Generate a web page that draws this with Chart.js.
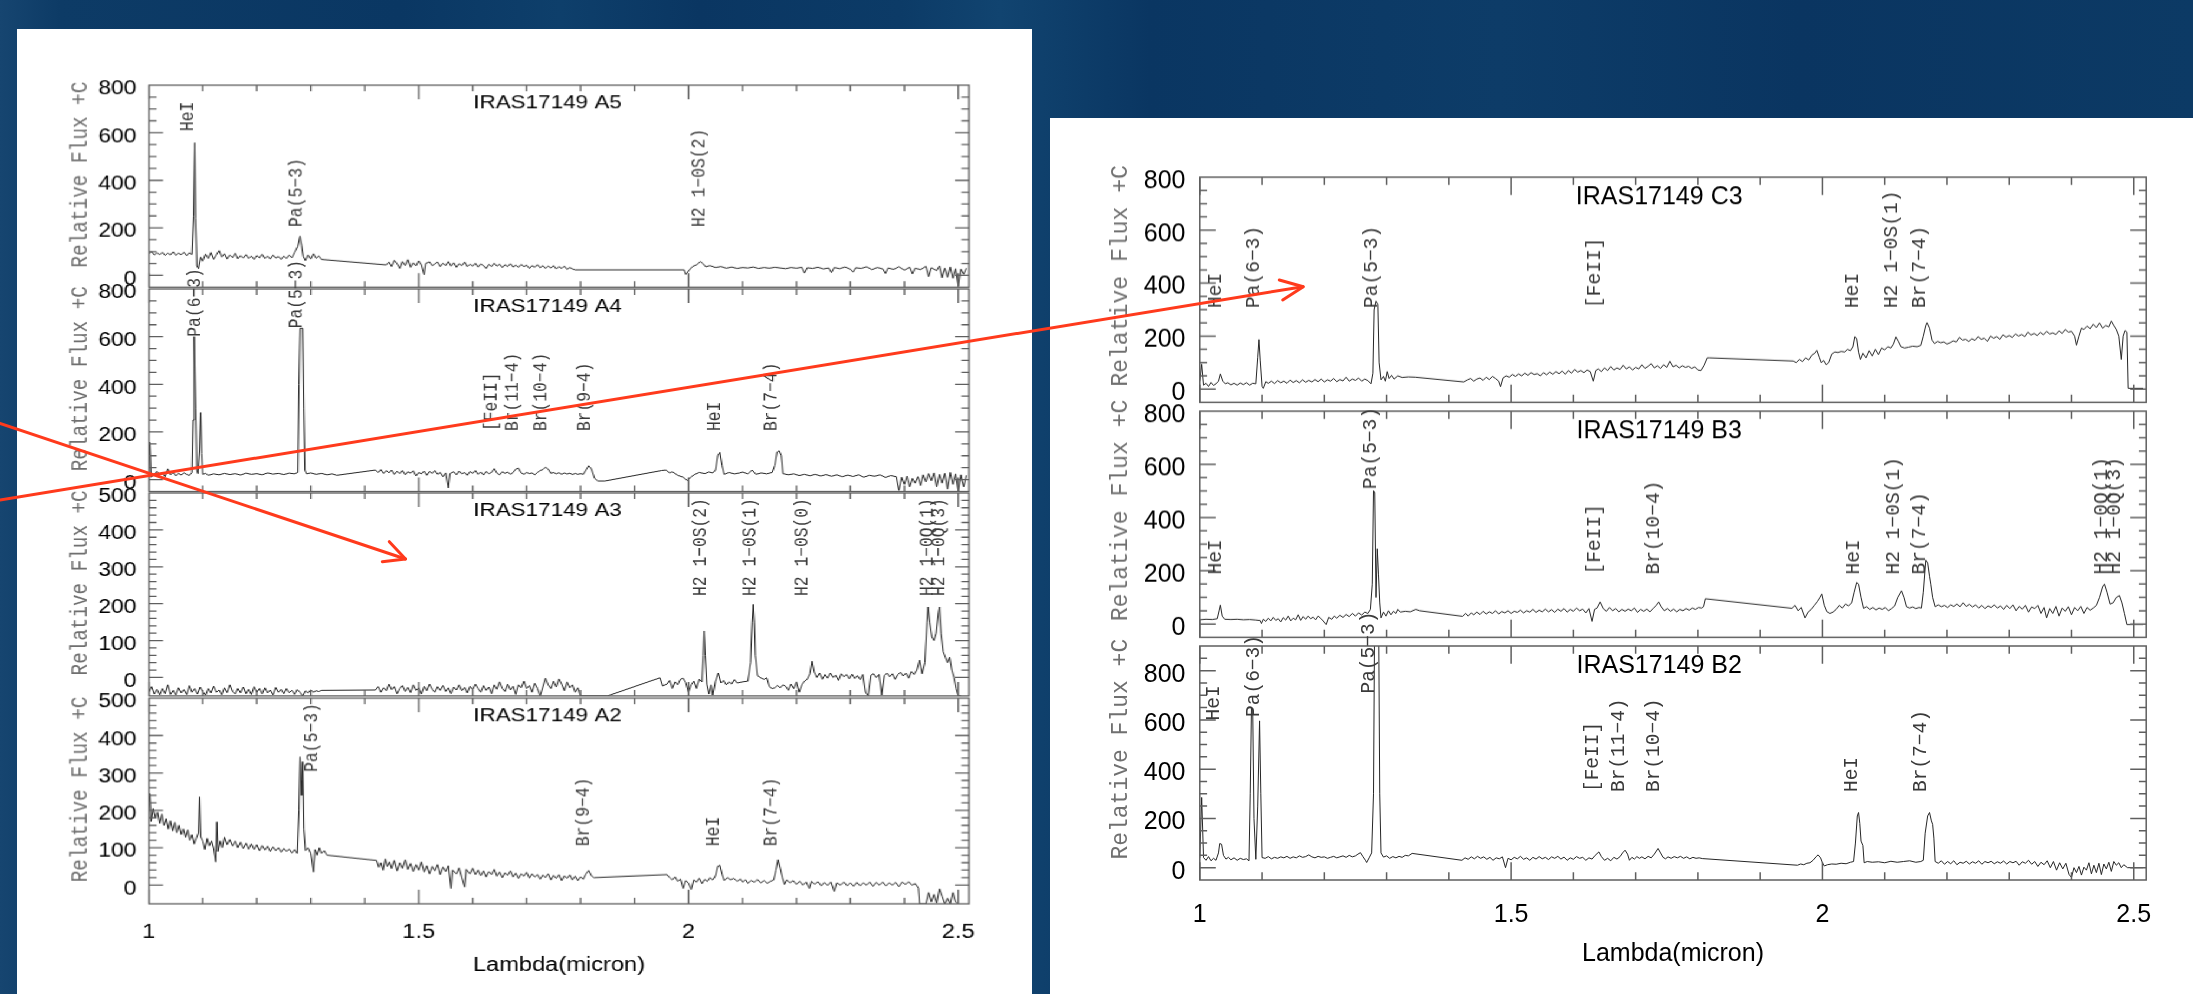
<!DOCTYPE html>
<html>
<head>
<meta charset="utf-8">
<script src="https://cdn.jsdelivr.net/npm/chart.js@4.4.1/dist/chart.umd.min.js"></script>
<style>
html, body { margin: 0; padding: 0; }
body {
    width: 2193px; height: 994px; overflow: hidden; position: relative;
    background: linear-gradient(90deg, #164570 0px, #0d3b66 60px, #0a3763 400px, #0e3f6b 560px, #0a3662 700px,
        #0c3b67 900px, #114470 1000px, #0a3662 1150px, #0d3c68 1500px, #0a3561 1800px, #0c3a65 2193px);
}
#left { position: absolute; left: 17.3px; top: 29.3px; width: 859.7px; height: 964.7px; background: #fff;
    transform: scaleX(1.18); transform-origin: 0 0; }
#right { position: absolute; left: 1049.5px; top: 118.3px; width: 1143.5px; height: 875.7px; background: #fff; }
.sub { position: absolute; left: 0; }
#arrows { position: absolute; left: 0; top: 0; pointer-events: none; }
</style>
</head>
<body>
<div id="left"></div>
<div id="right"></div>
<svg id="arrows" width="2193" height="994">
    <g stroke="#ff3a1c" stroke-width="3" fill="none" stroke-linecap="round" stroke-linejoin="round">
        <line x1="0" y1="500" x2="1303" y2="286.7"/>
        <polyline points="1279.3,280 1303.3,286.7 1282.7,300"/>
        <line x1="0" y1="423.3" x2="405.5" y2="559"/>
        <polyline points="389.3,541.7 405.5,559 382.3,561.7"/>
    </g>
</svg>
<script>
// tick values
const xMinorTicks = [1.0, 1.1, 1.2, 1.3, 1.4, 1.5, 1.6, 1.7, 1.8, 1.9, 2.0, 2.1, 2.2, 2.3, 2.4, 2.5];
const xMajorTicks = [1, 1.5, 2, 2.5];
const yTicks800 = [0, 200, 400, 600, 800];
const yTicks500 = [0, 100, 200, 300, 400, 500];

// spectra [lambda (micron), relative flux]
const specA5 = [[1.000,92],[1.005,99],[1.010,86],[1.015,95],[1.020,87],[1.025,97],[1.030,84],[1.035,93],[1.040,86],[1.045,99],[1.050,84],[1.055,93],[1.060,87],[1.065,97],[1.070,83],[1.075,95],[1.080,88],[1.083,250],[1.085,558],[1.087,240],[1.089,40],[1.092,28],[1.096,76],[1.100,60],[1.105,89],[1.110,71],[1.115,96],[1.120,68],[1.125,86],[1.130,104],[1.135,77],[1.140,91],[1.145,69],[1.150,85],[1.155,75],[1.160,93],[1.165,70],[1.170,83],[1.175,73],[1.180,87],[1.185,71],[1.190,81],[1.195,67],[1.200,83],[1.205,74],[1.210,89],[1.215,71],[1.220,81],[1.225,69],[1.230,85],[1.235,73],[1.240,79],[1.245,67],[1.250,81],[1.255,71],[1.260,85],[1.265,74],[1.270,96],[1.276,122],[1.280,165],[1.283,128],[1.286,80],[1.290,62],[1.295,86],[1.300,69],[1.305,91],[1.310,72],[1.315,81],[1.320,67],[1.325,66],[1.440,44],[1.445,56],[1.450,37],[1.455,63],[1.460,49],[1.465,29],[1.470,58],[1.475,41],[1.480,66],[1.485,34],[1.490,53],[1.495,40],[1.500,61],[1.505,44],[1.510,2],[1.513,50],[1.520,57],[1.525,41],[1.530,48],[1.535,56],[1.540,37],[1.545,51],[1.550,41],[1.555,58],[1.560,39],[1.565,53],[1.570,34],[1.575,49],[1.580,41],[1.585,56],[1.590,37],[1.595,47],[1.600,39],[1.605,51],[1.610,35],[1.615,48],[1.620,41],[1.625,29],[1.630,46],[1.635,37],[1.640,51],[1.645,39],[1.650,47],[1.655,33],[1.660,45],[1.665,37],[1.670,49],[1.675,35],[1.680,43],[1.685,34],[1.690,46],[1.695,37],[1.700,43],[1.705,29],[1.710,41],[1.715,34],[1.720,45],[1.725,32],[1.730,41],[1.735,29],[1.740,39],[1.745,31],[1.750,41],[1.755,27],[1.760,37],[1.765,29],[1.770,39],[1.775,25],[1.780,33],[1.785,27],[1.790,23],[1.992,23],[1.995,4],[2.000,19],[2.008,38],[2.015,44],[2.022,58],[2.027,49],[2.032,36],[2.040,41],[2.050,33],[2.060,37],[2.070,30],[2.080,35],[2.090,29],[2.100,33],[2.110,31],[2.120,35],[2.130,29],[2.140,33],[2.150,30],[2.160,34],[2.170,31],[2.180,28],[2.190,33],[2.200,30],[2.210,34],[2.215,10],[2.220,32],[2.230,29],[2.240,34],[2.250,27],[2.260,31],[2.265,12],[2.270,33],[2.280,28],[2.290,35],[2.300,26],[2.305,14],[2.310,32],[2.320,29],[2.330,36],[2.340,24],[2.350,33],[2.360,27],[2.365,8],[2.370,31],[2.380,25],[2.390,36],[2.400,22],[2.410,34],[2.415,6],[2.420,30],[2.430,24],[2.440,38],[2.445,-5],[2.450,32],[2.460,20],[2.465,40],[2.470,-10],[2.475,30],[2.480,-8],[2.485,35],[2.490,-12],[2.495,28],[2.500,-45],[2.505,26],[2.510,5],[2.515,30]];

const specA4 = [[1.000,5],[1.002,156],[1.004,10],[1.010,22],[1.015,35],[1.020,18],[1.025,28],[1.030,12],[1.035,45],[1.040,20],[1.045,30],[1.050,15],[1.055,26],[1.060,19],[1.065,28],[1.070,22],[1.075,17],[1.080,30],[1.082,250],[1.084,600],[1.087,300],[1.089,40],[1.091,25],[1.094,120],[1.096,281],[1.098,110],[1.100,22],[1.105,26],[1.110,18],[1.120,24],[1.130,20],[1.140,26],[1.150,21],[1.160,25],[1.170,19],[1.180,27],[1.190,22],[1.200,25],[1.210,20],[1.220,28],[1.230,23],[1.240,26],[1.250,21],[1.260,27],[1.270,24],[1.276,30],[1.278,400],[1.280,635],[1.285,635],[1.287,300],[1.289,40],[1.292,24],[1.300,28],[1.310,22],[1.320,26],[1.330,20],[1.340,24],[1.348,18],[1.420,40],[1.425,30],[1.430,42],[1.435,26],[1.440,38],[1.445,28],[1.450,40],[1.455,22],[1.460,35],[1.465,25],[1.470,38],[1.475,20],[1.480,33],[1.485,27],[1.490,37],[1.495,15],[1.500,30],[1.505,24],[1.510,36],[1.515,18],[1.520,34],[1.525,26],[1.530,38],[1.535,22],[1.540,30],[1.545,12],[1.550,28],[1.555,-35],[1.558,25],[1.565,33],[1.570,20],[1.575,36],[1.580,24],[1.585,30],[1.590,18],[1.595,34],[1.600,26],[1.605,38],[1.610,22],[1.615,32],[1.620,19],[1.625,34],[1.630,25],[1.635,30],[1.640,46],[1.645,27],[1.650,20],[1.655,33],[1.660,26],[1.665,32],[1.670,22],[1.675,30],[1.680,44],[1.685,48],[1.690,28],[1.695,22],[1.700,30],[1.705,25],[1.710,28],[1.715,20],[1.720,30],[1.725,38],[1.730,42],[1.735,52],[1.740,44],[1.745,26],[1.750,30],[1.755,24],[1.760,29],[1.765,22],[1.770,28],[1.775,23],[1.780,27],[1.785,21],[1.790,26],[1.795,22],[1.800,25],[1.805,22],[1.810,40],[1.815,58],[1.820,45],[1.826,5],[1.832,-6],[1.845,-6],[1.950,38],[1.958,40],[1.965,28],[1.970,33],[1.980,18],[1.990,10],[1.998,-4],[2.005,12],[2.012,22],[2.020,30],[2.030,25],[2.038,32],[2.045,28],[2.050,40],[2.054,100],[2.058,114],[2.062,60],[2.066,22],[2.075,30],[2.085,24],[2.095,28],[2.100,32],[2.110,24],[2.118,40],[2.125,22],[2.135,28],[2.145,24],[2.155,30],[2.160,60],[2.164,115],[2.168,121],[2.172,100],[2.175,25],[2.185,20],[2.195,24],[2.205,17],[2.215,22],[2.225,16],[2.235,22],[2.245,15],[2.255,21],[2.265,14],[2.275,20],[2.285,12],[2.295,19],[2.305,13],[2.315,20],[2.325,10],[2.335,18],[2.345,14],[2.355,20],[2.365,9],[2.375,17],[2.385,12],[2.390,-45],[2.395,10],[2.400,-20],[2.405,15],[2.410,-30],[2.415,5],[2.420,-15],[2.425,12],[2.430,-25],[2.435,20],[2.440,-10],[2.445,25],[2.450,-5],[2.455,28],[2.460,-30],[2.465,22],[2.470,-15],[2.475,26],[2.480,-40],[2.485,30],[2.490,-20],[2.495,24],[2.500,-50],[2.505,20],[2.510,-30],[2.515,18]];

const specA3 = [[1.000,-40],[1.005,-25],[1.010,-45],[1.015,-32],[1.020,-47],[1.025,-30],[1.030,-44],[1.035,-20],[1.040,-46],[1.045,-35],[1.050,-48],[1.055,-28],[1.060,-42],[1.065,-33],[1.070,-46],[1.075,-22],[1.080,-40],[1.085,-30],[1.090,-45],[1.095,-26],[1.100,-38],[1.105,-48],[1.110,-30],[1.115,-42],[1.120,-24],[1.125,-40],[1.130,-34],[1.135,-47],[1.140,-28],[1.145,-41],[1.150,-20],[1.155,-38],[1.160,-45],[1.165,-30],[1.170,-42],[1.175,-26],[1.180,-44],[1.185,-32],[1.190,-46],[1.195,-25],[1.200,-40],[1.205,-30],[1.210,-45],[1.215,-28],[1.220,-42],[1.225,-34],[1.230,-47],[1.235,-27],[1.240,-40],[1.245,-32],[1.250,-44],[1.255,-30],[1.260,-41],[1.265,-35],[1.270,-46],[1.275,-33],[1.280,-40],[1.285,-50],[1.290,-36],[1.295,-42],[1.300,-34],[1.305,-40],[1.310,-36],[1.315,-38],[1.320,-35],[1.420,-34],[1.425,-25],[1.430,-40],[1.435,-28],[1.440,-36],[1.445,-18],[1.450,-33],[1.455,-25],[1.460,-44],[1.465,-30],[1.470,-22],[1.475,-38],[1.480,-27],[1.485,-41],[1.490,-20],[1.495,-35],[1.500,-28],[1.505,-45],[1.510,-24],[1.515,-36],[1.520,-18],[1.525,-32],[1.530,-40],[1.535,-25],[1.540,-35],[1.545,-22],[1.550,-38],[1.555,-28],[1.560,-44],[1.565,-26],[1.570,-34],[1.575,-20],[1.580,-36],[1.585,-27],[1.590,-42],[1.595,-24],[1.600,-33],[1.605,-18],[1.610,-30],[1.615,-40],[1.620,-22],[1.625,-35],[1.630,-26],[1.635,-44],[1.640,-20],[1.645,-32],[1.650,-12],[1.655,-30],[1.660,-38],[1.665,-18],[1.670,-34],[1.675,-24],[1.680,-46],[1.685,-20],[1.690,-28],[1.695,-10],[1.700,-30],[1.705,-22],[1.710,-40],[1.715,-16],[1.720,-30],[1.725,-50],[1.730,-26],[1.735,-2],[1.740,-20],[1.745,-30],[1.750,-10],[1.755,-26],[1.760,-4],[1.765,-18],[1.770,-36],[1.775,-12],[1.780,-28],[1.785,-20],[1.790,-40],[1.795,-28],[1.800,-50],[1.850,-50],[1.947,-1],[1.952,-23],[1.960,-18],[1.965,-8],[1.970,-30],[1.975,-12],[1.980,-20],[1.985,-5],[1.990,-2],[1.995,-14],[2.000,-40],[2.005,-20],[2.010,-10],[2.015,-30],[2.020,-5],[2.025,-12],[2.027,60],[2.029,126],[2.031,60],[2.034,-18],[2.038,-45],[2.042,-20],[2.045,-48],[2.050,-10],[2.055,12],[2.060,-15],[2.065,-8],[2.070,-20],[2.075,-12],[2.080,-18],[2.085,-6],[2.090,-15],[2.100,-12],[2.110,-10],[2.115,40],[2.118,150],[2.120,198],[2.122,150],[2.124,60],[2.128,5],[2.135,-2],[2.140,-5],[2.145,-1],[2.150,-25],[2.155,-30],[2.160,-28],[2.165,-22],[2.170,-28],[2.175,-20],[2.180,-24],[2.185,-35],[2.190,-18],[2.195,-30],[2.200,-12],[2.205,-40],[2.210,-20],[2.215,-10],[2.220,-5],[2.225,10],[2.229,44],[2.233,15],[2.238,0],[2.243,12],[2.248,-5],[2.253,8],[2.258,-2],[2.263,12],[2.268,0],[2.273,6],[2.278,-8],[2.283,10],[2.288,2],[2.293,8],[2.298,-4],[2.303,9],[2.308,-3],[2.313,5],[2.318,-6],[2.323,8],[2.328,-40],[2.333,-50],[2.338,6],[2.343,10],[2.348,0],[2.353,8],[2.358,-48],[2.363,5],[2.368,12],[2.373,2],[2.378,10],[2.383,-5],[2.388,8],[2.393,14],[2.398,4],[2.403,12],[2.408,-2],[2.413,16],[2.418,8],[2.423,20],[2.428,47],[2.433,10],[2.438,40],[2.442,150],[2.444,191],[2.447,150],[2.451,110],[2.455,100],[2.459,120],[2.463,175],[2.465,191],[2.468,120],[2.472,70],[2.476,55],[2.480,40],[2.484,55],[2.488,20],[2.492,0],[2.496,-30],[2.500,-50],[2.505,-50]];

const specA2 = [[1.000,200],[1.002,245],[1.004,170],[1.008,205],[1.012,180],[1.016,195],[1.020,165],[1.024,190],[1.028,160],[1.032,178],[1.036,150],[1.040,172],[1.044,145],[1.048,168],[1.052,140],[1.056,160],[1.060,135],[1.064,150],[1.068,128],[1.072,148],[1.076,120],[1.080,135],[1.084,110],[1.088,125],[1.092,140],[1.094,236],[1.096,130],[1.100,118],[1.104,95],[1.108,125],[1.112,105],[1.116,118],[1.120,98],[1.124,62],[1.126,169],[1.128,90],[1.132,118],[1.136,100],[1.140,128],[1.145,108],[1.150,122],[1.155,105],[1.160,118],[1.165,100],[1.170,115],[1.175,98],[1.180,112],[1.185,96],[1.190,110],[1.195,95],[1.200,108],[1.205,92],[1.210,106],[1.215,94],[1.220,104],[1.225,90],[1.230,102],[1.235,92],[1.240,100],[1.245,88],[1.250,98],[1.255,90],[1.260,96],[1.265,86],[1.270,95],[1.275,85],[1.278,200],[1.280,343],[1.282,280],[1.283,240],[1.285,330],[1.287,150],[1.290,92],[1.295,100],[1.300,85],[1.305,35],[1.308,95],[1.312,80],[1.316,100],[1.320,85],[1.325,92],[1.330,80],[1.422,66],[1.426,48],[1.430,60],[1.434,40],[1.438,70],[1.442,50],[1.446,62],[1.450,44],[1.455,66],[1.460,38],[1.465,60],[1.470,45],[1.475,68],[1.480,42],[1.485,58],[1.490,36],[1.495,55],[1.500,40],[1.505,62],[1.510,35],[1.515,52],[1.520,30],[1.525,50],[1.530,38],[1.535,55],[1.540,28],[1.545,48],[1.550,36],[1.555,52],[1.560,-9],[1.563,40],[1.570,30],[1.575,46],[1.580,20],[1.585,-5],[1.588,42],[1.595,30],[1.600,45],[1.605,28],[1.610,40],[1.615,25],[1.620,38],[1.625,22],[1.630,36],[1.635,28],[1.640,42],[1.645,24],[1.650,35],[1.655,20],[1.660,33],[1.665,26],[1.670,38],[1.675,22],[1.680,32],[1.685,18],[1.690,30],[1.695,24],[1.700,34],[1.705,19],[1.710,30],[1.715,22],[1.720,28],[1.725,16],[1.730,27],[1.735,20],[1.740,30],[1.745,14],[1.750,26],[1.755,18],[1.760,28],[1.765,12],[1.770,25],[1.775,18],[1.780,27],[1.785,14],[1.790,24],[1.795,12],[1.800,22],[1.805,16],[1.810,30],[1.815,39],[1.820,25],[1.825,20],[1.960,28],[1.965,20],[1.970,14],[1.975,22],[1.980,10],[1.985,16],[1.990,-9],[1.995,12],[2.000,5],[2.005,-12],[2.010,14],[2.015,8],[2.020,18],[2.025,4],[2.030,15],[2.035,10],[2.040,20],[2.045,14],[2.050,25],[2.054,50],[2.058,53],[2.062,30],[2.066,12],[2.072,20],[2.078,14],[2.084,18],[2.090,10],[2.096,16],[2.100,8],[2.106,14],[2.110,5],[2.116,12],[2.122,8],[2.128,15],[2.134,6],[2.140,12],[2.146,5],[2.152,10],[2.158,14],[2.162,40],[2.166,68],[2.170,45],[2.174,20],[2.178,2],[2.182,14],[2.188,6],[2.194,12],[2.200,2],[2.206,10],[2.212,0],[2.218,8],[2.224,-9],[2.228,10],[2.234,2],[2.240,9],[2.246,-2],[2.252,7],[2.258,-1],[2.264,8],[2.270,-17],[2.275,6],[2.282,0],[2.288,8],[2.294,-2],[2.300,6],[2.306,-3],[2.312,7],[2.318,-2],[2.324,6],[2.330,0],[2.336,8],[2.342,-3],[2.348,7],[2.354,0],[2.360,8],[2.366,-2],[2.372,6],[2.378,0],[2.384,7],[2.390,-4],[2.396,8],[2.402,2],[2.408,9],[2.414,0],[2.420,4],[2.426,-8],[2.428,-50],[2.440,-50],[2.445,-20],[2.450,-45],[2.455,-25],[2.460,-48],[2.465,-10],[2.470,-30],[2.475,-50],[2.480,-35],[2.485,-50],[2.490,-20],[2.495,-45],[2.500,-50]];

const specC3 = [[1.000,30],[1.003,94],[1.006,15],[1.010,22],[1.014,10],[1.018,25],[1.022,14],[1.026,20],[1.030,30],[1.033,57],[1.037,30],[1.041,20],[1.045,24],[1.050,16],[1.055,22],[1.060,15],[1.065,23],[1.070,17],[1.075,24],[1.080,15],[1.085,22],[1.090,20],[1.093,120],[1.095,187],[1.097,110],[1.100,10],[1.102,3],[1.106,28],[1.110,22],[1.115,30],[1.120,21],[1.125,32],[1.130,24],[1.135,30],[1.140,22],[1.145,34],[1.150,25],[1.155,32],[1.160,24],[1.165,35],[1.170,26],[1.175,33],[1.180,27],[1.185,36],[1.190,28],[1.195,38],[1.200,27],[1.205,35],[1.210,30],[1.215,40],[1.220,28],[1.225,36],[1.230,31],[1.235,45],[1.240,30],[1.245,38],[1.250,33],[1.255,42],[1.260,30],[1.265,38],[1.270,32],[1.275,20],[1.278,60],[1.280,300],[1.283,332],[1.286,320],[1.288,100],[1.291,35],[1.295,48],[1.298,30],[1.301,66],[1.304,40],[1.308,52],[1.312,38],[1.318,50],[1.325,44],[1.335,46],[1.346,45],[1.424,27],[1.430,35],[1.435,40],[1.440,30],[1.445,38],[1.450,42],[1.455,33],[1.460,45],[1.465,36],[1.470,48],[1.475,40],[1.480,30],[1.483,9],[1.487,42],[1.492,50],[1.497,45],[1.502,55],[1.507,48],[1.512,57],[1.517,50],[1.522,60],[1.527,52],[1.532,62],[1.537,55],[1.542,58],[1.547,50],[1.552,62],[1.557,54],[1.562,64],[1.567,56],[1.572,66],[1.577,58],[1.582,68],[1.587,56],[1.592,70],[1.597,60],[1.602,74],[1.607,64],[1.612,70],[1.617,62],[1.622,72],[1.627,66],[1.632,30],[1.636,70],[1.640,76],[1.645,66],[1.650,80],[1.655,70],[1.660,85],[1.665,72],[1.670,80],[1.675,74],[1.680,90],[1.685,76],[1.690,84],[1.695,72],[1.700,82],[1.705,76],[1.710,92],[1.715,78],[1.720,86],[1.725,96],[1.730,80],[1.735,88],[1.740,78],[1.745,92],[1.750,82],[1.755,105],[1.760,84],[1.765,90],[1.770,80],[1.775,88],[1.780,82],[1.785,86],[1.790,78],[1.795,84],[1.800,72],[1.805,70],[1.810,90],[1.815,118],[1.819,118],[1.953,106],[1.958,100],[1.963,112],[1.968,104],[1.973,118],[1.978,110],[1.983,128],[1.988,136],[1.991,146],[1.995,120],[1.998,100],[2.002,108],[2.006,92],[2.010,100],[2.015,132],[2.020,140],[2.025,138],[2.030,142],[2.036,140],[2.040,150],[2.045,145],[2.049,160],[2.052,198],[2.055,190],[2.058,140],[2.061,112],[2.065,135],[2.070,118],[2.075,145],[2.080,125],[2.085,150],[2.090,130],[2.095,155],[2.100,148],[2.105,160],[2.110,155],[2.114,170],[2.118,197],[2.122,180],[2.126,160],[2.132,155],[2.138,158],[2.145,162],[2.152,160],[2.158,165],[2.162,200],[2.166,240],[2.168,251],[2.172,230],[2.176,185],[2.180,172],[2.185,180],[2.190,175],[2.195,178],[2.200,170],[2.205,175],[2.210,182],[2.215,178],[2.220,195],[2.225,185],[2.230,188],[2.235,180],[2.240,190],[2.245,184],[2.250,198],[2.255,188],[2.260,192],[2.265,180],[2.270,200],[2.275,192],[2.280,198],[2.285,188],[2.290,205],[2.295,196],[2.300,202],[2.305,195],[2.310,208],[2.315,200],[2.320,206],[2.325,198],[2.330,215],[2.335,204],[2.340,210],[2.345,202],[2.350,214],[2.355,205],[2.360,218],[2.365,208],[2.370,212],[2.375,206],[2.380,220],[2.385,210],[2.390,225],[2.395,215],[2.400,218],[2.405,200],[2.408,166],[2.412,200],[2.416,230],[2.420,225],[2.425,238],[2.430,228],[2.435,245],[2.440,232],[2.445,250],[2.450,230],[2.455,240],[2.460,235],[2.464,257],[2.468,240],[2.472,225],[2.476,200],[2.480,112],[2.483,200],[2.486,221],[2.489,215],[2.491,3],[2.500,3],[2.515,3]];

const specB3 = [[1.000,16],[1.010,18],[1.020,17],[1.028,20],[1.031,50],[1.033,71],[1.036,30],[1.040,18],[1.050,17],[1.060,18],[1.070,16],[1.080,17],[1.090,15],[1.097,13],[1.099,2],[1.102,18],[1.106,10],[1.110,22],[1.114,12],[1.118,25],[1.122,14],[1.126,20],[1.130,8],[1.134,24],[1.138,15],[1.142,30],[1.146,12],[1.150,22],[1.154,16],[1.158,35],[1.162,14],[1.166,28],[1.170,18],[1.174,30],[1.178,20],[1.182,26],[1.186,16],[1.190,30],[1.194,22],[1.198,12],[1.203,-2],[1.207,25],[1.212,18],[1.216,30],[1.220,22],[1.225,33],[1.230,25],[1.235,36],[1.240,28],[1.245,40],[1.250,30],[1.255,42],[1.260,34],[1.265,45],[1.270,40],[1.274,55],[1.277,150],[1.279,501],[1.281,495],[1.283,100],[1.285,283],[1.287,186],[1.289,80],[1.291,23],[1.295,45],[1.299,30],[1.303,50],[1.307,35],[1.311,48],[1.315,40],[1.318,55],[1.322,45],[1.330,48],[1.338,46],[1.347,55],[1.353,50],[1.422,29],[1.427,40],[1.431,30],[1.436,42],[1.440,35],[1.445,45],[1.450,36],[1.455,48],[1.460,38],[1.465,46],[1.470,40],[1.475,50],[1.480,38],[1.485,47],[1.490,42],[1.495,50],[1.500,40],[1.505,48],[1.510,44],[1.515,52],[1.520,42],[1.525,50],[1.530,45],[1.535,55],[1.540,44],[1.545,52],[1.550,46],[1.555,56],[1.560,46],[1.565,54],[1.570,44],[1.575,56],[1.580,48],[1.585,58],[1.590,45],[1.595,55],[1.600,48],[1.605,60],[1.610,50],[1.615,56],[1.620,42],[1.625,58],[1.630,10],[1.634,55],[1.638,60],[1.643,83],[1.648,58],[1.653,48],[1.658,62],[1.663,50],[1.668,58],[1.673,46],[1.678,55],[1.683,48],[1.688,56],[1.693,50],[1.698,60],[1.703,44],[1.708,55],[1.713,48],[1.718,56],[1.723,46],[1.728,58],[1.733,70],[1.737,83],[1.741,65],[1.746,50],[1.751,58],[1.756,48],[1.761,56],[1.766,46],[1.771,55],[1.776,50],[1.781,58],[1.786,52],[1.791,60],[1.796,55],[1.801,62],[1.806,60],[1.809,65],[1.812,95],[1.951,59],[1.956,70],[1.961,50],[1.966,62],[1.972,23],[1.977,45],[1.982,55],[1.987,70],[1.992,85],[1.996,100],[1.999,113],[2.003,70],[2.007,47],[2.012,40],[2.017,45],[2.022,55],[2.027,70],[2.032,60],[2.037,75],[2.042,68],[2.047,80],[2.051,120],[2.055,156],[2.058,150],[2.062,100],[2.066,59],[2.071,65],[2.076,55],[2.081,62],[2.086,53],[2.091,60],[2.096,55],[2.101,62],[2.106,50],[2.111,58],[2.116,68],[2.121,100],[2.127,125],[2.131,100],[2.135,65],[2.140,60],[2.145,64],[2.150,58],[2.155,62],[2.159,60],[2.162,120],[2.166,240],[2.169,230],[2.172,180],[2.174,150],[2.177,100],[2.181,65],[2.186,72],[2.191,65],[2.196,70],[2.201,62],[2.206,72],[2.211,66],[2.216,75],[2.221,65],[2.226,80],[2.231,66],[2.236,74],[2.241,64],[2.246,72],[2.251,60],[2.256,70],[2.261,58],[2.266,68],[2.271,62],[2.276,72],[2.281,60],[2.286,68],[2.291,55],[2.296,70],[2.301,58],[2.306,72],[2.311,50],[2.316,66],[2.321,56],[2.326,70],[2.331,45],[2.336,64],[2.341,58],[2.346,70],[2.351,40],[2.356,62],[2.360,23],[2.365,58],[2.370,40],[2.375,66],[2.380,30],[2.385,60],[2.390,48],[2.395,65],[2.400,35],[2.405,62],[2.410,50],[2.415,66],[2.420,40],[2.425,62],[2.430,52],[2.435,60],[2.440,70],[2.445,100],[2.450,140],[2.453,150],[2.457,120],[2.462,75],[2.467,80],[2.472,100],[2.477,107],[2.481,80],[2.485,40],[2.489,-2],[2.500,-2],[2.515,-2]];

const specB2 = [[1.000,40],[1.003,285],[1.006,41],[1.010,30],[1.014,45],[1.018,28],[1.022,38],[1.026,30],[1.030,60],[1.032,98],[1.035,95],[1.038,50],[1.042,35],[1.046,42],[1.050,32],[1.055,40],[1.060,30],[1.065,38],[1.070,33],[1.075,36],[1.079,28],[1.081,300],[1.083,650],[1.085,640],[1.087,200],[1.090,34],[1.093,250],[1.096,596],[1.098,300],[1.100,41],[1.105,38],[1.110,45],[1.115,36],[1.120,42],[1.125,38],[1.130,44],[1.135,40],[1.140,46],[1.145,38],[1.150,44],[1.155,40],[1.160,48],[1.165,42],[1.170,45],[1.175,52],[1.180,44],[1.185,40],[1.190,46],[1.195,42],[1.200,44],[1.205,38],[1.210,42],[1.215,46],[1.220,40],[1.225,44],[1.230,48],[1.235,42],[1.240,50],[1.245,44],[1.250,48],[1.254,55],[1.258,61],[1.262,45],[1.266,30],[1.268,21],[1.272,40],[1.276,60],[1.279,300],[1.281,1100],[1.287,1100],[1.289,300],[1.291,60],[1.295,43],[1.300,48],[1.305,38],[1.310,45],[1.315,40],[1.320,46],[1.325,42],[1.330,50],[1.335,48],[1.341,58],[1.421,30],[1.426,40],[1.431,34],[1.436,44],[1.441,36],[1.446,46],[1.451,38],[1.456,44],[1.461,34],[1.466,42],[1.471,30],[1.476,40],[1.481,36],[1.486,44],[1.491,0],[1.495,38],[1.500,32],[1.505,42],[1.510,36],[1.515,46],[1.520,34],[1.525,40],[1.530,30],[1.535,42],[1.540,35],[1.545,45],[1.550,36],[1.555,42],[1.560,33],[1.565,44],[1.570,38],[1.575,46],[1.580,35],[1.585,43],[1.590,30],[1.595,40],[1.600,34],[1.605,45],[1.610,38],[1.615,42],[1.620,30],[1.625,40],[1.630,35],[1.635,50],[1.641,64],[1.645,45],[1.650,30],[1.655,38],[1.660,28],[1.665,42],[1.670,35],[1.675,45],[1.679,60],[1.683,71],[1.687,55],[1.690,30],[1.694,42],[1.698,35],[1.702,45],[1.706,38],[1.710,44],[1.715,36],[1.720,46],[1.725,40],[1.730,55],[1.736,78],[1.740,60],[1.744,42],[1.748,36],[1.752,44],[1.757,38],[1.762,45],[1.767,40],[1.772,46],[1.777,38],[1.782,44],[1.787,36],[1.792,42],[1.797,38],[1.802,40],[1.807,37],[1.960,10],[1.965,15],[1.970,12],[1.975,18],[1.980,20],[1.985,30],[1.990,45],[1.993,52],[1.997,40],[2.000,20],[2.003,7],[2.008,12],[2.015,15],[2.022,14],[2.030,18],[2.038,16],[2.045,22],[2.050,25],[2.053,100],[2.056,210],[2.058,224],[2.060,180],[2.062,108],[2.065,90],[2.067,20],[2.072,25],[2.080,22],[2.090,24],[2.100,20],[2.110,26],[2.120,22],[2.130,25],[2.140,28],[2.150,22],[2.158,25],[2.162,30],[2.165,140],[2.169,210],[2.172,224],[2.175,190],[2.177,176],[2.179,120],[2.181,25],[2.186,18],[2.191,28],[2.196,14],[2.201,25],[2.206,16],[2.211,28],[2.216,12],[2.221,22],[2.226,18],[2.231,26],[2.236,15],[2.241,24],[2.246,18],[2.251,28],[2.256,14],[2.261,25],[2.266,20],[2.271,26],[2.276,16],[2.281,24],[2.286,18],[2.291,27],[2.296,15],[2.301,25],[2.306,20],[2.311,26],[2.316,10],[2.321,24],[2.326,18],[2.331,30],[2.336,14],[2.341,25],[2.346,5],[2.351,22],[2.356,12],[2.361,28],[2.366,0],[2.371,25],[2.376,-10],[2.381,20],[2.386,-5],[2.391,18],[2.396,-27],[2.400,-40],[2.404,0],[2.408,-20],[2.412,5],[2.416,-30],[2.420,2],[2.424,-10],[2.428,20],[2.432,-25],[2.436,10],[2.440,-20],[2.444,18],[2.448,-28],[2.452,15],[2.456,-5],[2.460,22],[2.464,-15],[2.468,25],[2.472,10],[2.476,20],[2.480,0],[2.484,12],[2.490,0],[2.500,0],[2.515,0]];

// line identifications [name, lambda, flux where the label starts]
const linesA5 = [['HeI', 1.072, 607], ['Pa(5−3)', 1.273, 204], ['H2 1−0S(2)', 2.021, 204]];
const linesA4 = [['Pa(6−3)', 1.085, 600], ['Pa(5−3)', 1.273, 635], ['[FeII]', 1.634, 204], ['Br(11−4)', 1.674, 204],
    ['Br(10−4)', 1.728, 204], ['Br(9−4)', 1.808, 204], ['HeI', 2.048, 204], ['Br(7−4)', 2.155, 204]];
const linesA3 = [['H2 1−0S(2)', 2.022, 221], ['H2 1−0S(1)', 2.114, 221], ['H2 1−0S(0)', 2.211, 221],
    ['H2 1−0Q(1)', 2.444, 221], ['H2 1−0Q(3)', 2.465, 221]];
const linesA2 = [['Pa(5−3)', 1.303, 303], ['Br(9−4)', 1.806, 104], ['HeI', 2.047, 104], ['Br(7−4)', 2.155, 104]];
const linesC3 = [['HeI', 1.025, 306], ['Pa(6−3)', 1.086, 306], ['Pa(5−3)', 1.276, 306], ['[FeII]', 1.635, 306],
    ['HeI', 2.049, 306], ['H2 1−0S(1)', 2.111, 306], ['Br(7−4)', 2.157, 306]];
const linesB3 = [['HeI', 1.026, 186], ['Pa(5−3)', 1.275, 507], ['[FeII]', 1.635, 186], ['Br(10−4)', 1.729, 186],
    ['HeI', 2.050, 186], ['H2 1−0S(1)', 2.114, 186], ['Br(7−4)', 2.157, 186],
    ['H2 1−0Q(1)', 2.449, 186], ['H2 1−0Q(3)', 2.470, 186]];
const linesB2 = [['HeI', 1.022, 598], ['Pa(6−3)', 1.087, 612], ['Pa(5−3)', 1.272, 707], ['[FeII]', 1.632, 307],
    ['Br(11−4)', 1.673, 307], ['Br(10−4)', 1.730, 307], ['HeI', 2.048, 307], ['Br(7−4)', 2.158, 307]];

const SANS = "'Liberation Sans', Arial, sans-serif";
const MONO = "'Liberation Mono', 'Courier New', monospace";

// panel layout (left one is stretched sideways like the slide)
const leftPanel = { id: 'left', width: 859.7, frameL: 111.6, frameR: 805.9, scaleL: 42.1, xAxisH: 73.7,
    tickFont: 19.5, xFont: 20, titleFont: 19, lineFont: 16.3, yTitleFont: 19.3, tickPad: 10.4, xPad: 16.5,
    majX: 14, minX: 6, majY: 12, minY: 6.5, titleDx: -9.7, titleDy: 17.4, frameW: 1.3 };
const rightPanel = { id: 'right', width: 1143.5, frameL: 149.8, frameR: 1096.2, scaleL: 57.5, xAxisH: 89.3,
    tickFont: 25, xFont: 25, titleFont: 25, lineFont: 19.5, yTitleFont: 23, tickPad: 14.3, xPad: 19.8,
    majX: 17.7, minX: 7.7, majY: 16, minY: 7.3, titleDx: -13.8, titleDy: 19.8, frameW: 1.5 };

const subplots = [
    { panel: leftPanel, top: 56, bottom: 259.4, name: 'IRAS17149 A5', data: specA5, min: -50, max: 800, ticks: yTicks800, minor: 50, lines: linesA5 },
    { panel: leftPanel, top: 259.4, bottom: 464, name: 'IRAS17149 A4', data: specA4, min: -50, max: 800, ticks: yTicks800, minor: 50, lines: linesA4 },
    { panel: leftPanel, top: 464, bottom: 669, name: 'IRAS17149 A3', data: specA3, min: -50, max: 500, ticks: yTicks500, minor: 20, lines: linesA3 },
    { panel: leftPanel, top: 669, bottom: 874, name: 'IRAS17149 A2', data: specA2, min: -50, max: 500, ticks: yTicks500, minor: 20, lines: linesA2, last: true },
    { panel: rightPanel, top: 59, bottom: 292.7, name: 'IRAS17149 C3', data: specC3, min: -50, max: 800, ticks: yTicks800, minor: 50, lines: linesC3 },
    { panel: rightPanel, top: 292.7, bottom: 527.4, name: 'IRAS17149 B3', data: specB3, min: -50, max: 800, ticks: yTicks800, minor: 50, lines: linesB3 },
    { panel: rightPanel, top: 527.4, bottom: 761.4, name: 'IRAS17149 B2', data: specB2, min: -50, max: 900, ticks: yTicks800, minor: 50, lines: linesB2, last: true }
];

// box with inward ticks, title and line ids
const framePlugin = {
    id: 'frame',
    afterDraw(chart) {
        const s = chart.options.plugins.frame.sub;
        const p = s.panel;
        const { ctx, chartArea: a } = chart;
        const x = chart.scales.x, y = chart.scales.y;
        ctx.save();
        ctx.strokeStyle = '#5f5f5f';
        ctx.lineWidth = p.frameW;
        ctx.strokeRect(a.left, a.top, a.right - a.left, a.bottom - a.top);
        ctx.beginPath();
        xMinorTicks.forEach(v => {
            const px = x.getPixelForValue(v);
            const len = xMajorTicks.includes(v) ? p.majX : p.minX;
            ctx.moveTo(px, a.top); ctx.lineTo(px, a.top + len);
            ctx.moveTo(px, a.bottom); ctx.lineTo(px, a.bottom - len);
        });
        for (let v = 0; v < s.max; v += s.minor) {
            const py = y.getPixelForValue(v);
            const len = s.ticks.includes(v) ? p.majY : p.minY;
            ctx.moveTo(a.left, py); ctx.lineTo(a.left + len, py);
            ctx.moveTo(a.right, py); ctx.lineTo(a.right - len, py);
        }
        ctx.stroke();

        ctx.fillStyle = '#000';
        ctx.font = p.titleFont + 'px ' + SANS;
        ctx.textAlign = 'center';
        ctx.textBaseline = 'middle';
        ctx.fillText(s.name, (a.left + a.right) / 2 + p.titleDx, a.top + p.titleDy);

        ctx.fillStyle = '#3a3a3a';
        ctx.font = p.lineFont + 'px ' + MONO;
        ctx.textAlign = 'left';
        s.lines.forEach(([txt, lam, val]) => {
            ctx.save();
            ctx.translate(x.getPixelForValue(lam), y.getPixelForValue(val));
            ctx.rotate(-Math.PI / 2);
            ctx.fillText(txt, 0, 0);
            ctx.restore();
        });
        ctx.restore();
    }
};

subplots.forEach(s => {
    const p = s.panel;
    const padT = 45, padB = 20;
    const div = document.createElement('div');
    div.className = 'sub';
    div.style.top = (s.top - padT) + 'px';
    div.style.width = p.width + 'px';
    div.style.height = (s.bottom - s.top + padT + (s.last ? p.xAxisH : padB)) + 'px';
    const cv = document.createElement('canvas');
    div.appendChild(cv);
    document.getElementById(p.id).appendChild(div);

    new Chart(cv, {
        type: 'line',
        data: {
            datasets: [{
                data: s.data,
                borderColor: '#262626',
                borderWidth: 1,
                pointRadius: 0,
                tension: 0
            }]
        },
        options: {
            responsive: true,
            maintainAspectRatio: false,
            animation: false,
            devicePixelRatio: 1,
            layout: { padding: { top: padT, bottom: s.last ? 0 : padB, left: p.scaleL, right: p.width - p.frameR } },
            plugins: { legend: { display: false }, tooltip: { enabled: false }, frame: { sub: s } },
            scales: {
                x: {
                    type: 'linear', min: 1, max: 2.52, display: !!s.last,
                    grid: { display: false, drawTicks: false }, border: { display: false },
                    afterBuildTicks: sc => { sc.ticks = xMajorTicks.map(v => ({ value: v })); },
                    afterFit: sc => { sc.height = s.last ? p.xAxisH : 0; },
                    ticks: { callback: v => String(v), padding: p.xPad, autoSkip: false, maxRotation: 0,
                        color: '#000', font: { family: SANS, size: p.xFont } },
                    title: { display: true, text: 'Lambda(micron)', color: '#000', padding: 0,
                        font: { family: SANS, size: p.xFont } }
                },
                y: {
                    type: 'linear', min: s.min, max: s.max,
                    grid: { display: false, drawTicks: false }, border: { display: false },
                    afterBuildTicks: sc => { sc.ticks = s.ticks.map(v => ({ value: v })); },
                    afterFit: sc => { sc.width = p.frameL - p.scaleL; },
                    ticks: { callback: v => String(v), padding: p.tickPad, autoSkip: false, labelOffset: 4,
                        color: '#000', font: { family: SANS, size: p.tickFont } },
                    title: { display: true, text: '  Relative Flux +C', color: '#707070', padding: 0,
                        font: { family: MONO, size: p.yTitleFont } }
                }
            }
        },
        plugins: [framePlugin]
    });
});
</script>
</body>
</html>
